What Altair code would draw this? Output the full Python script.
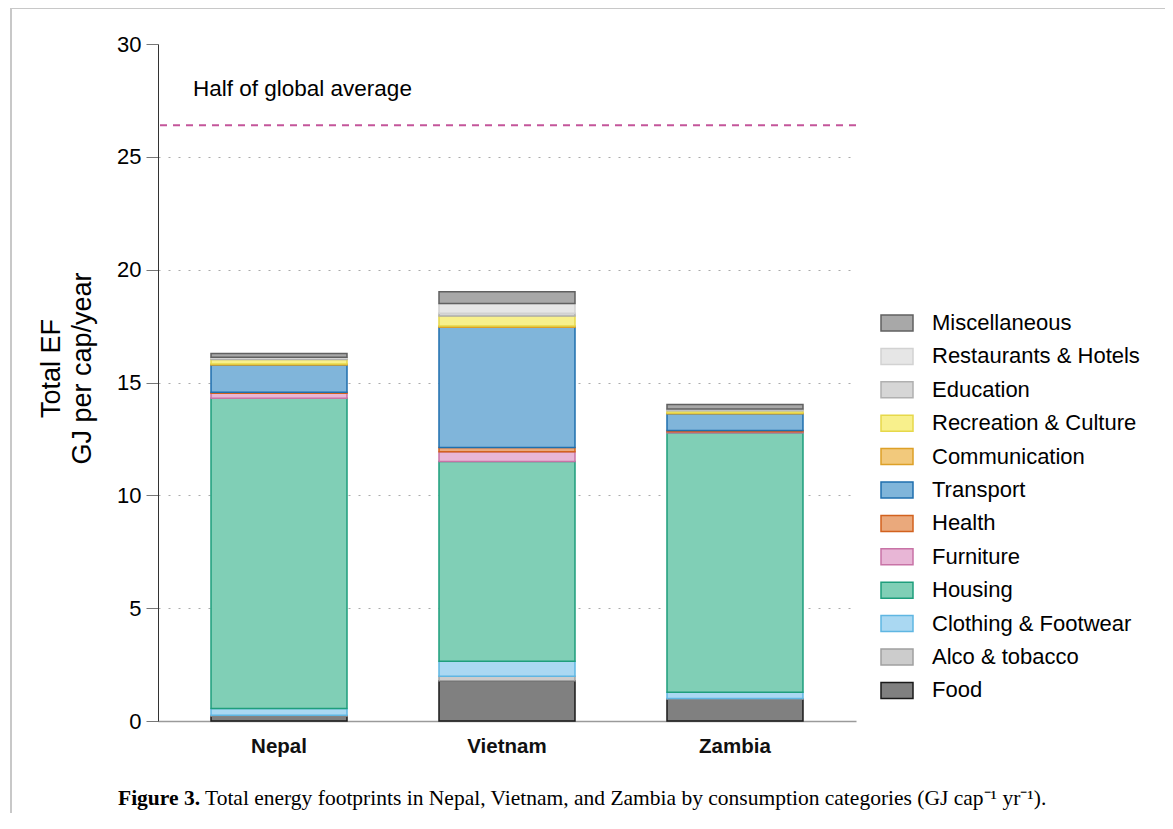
import altair as alt
import pandas as pd

countries = ["Nepal", "Vietnam", "Zambia"]
categories = ["Food", "Alco & tobacco", "Clothing & Footwear", "Housing", "Furniture",
              "Health", "Transport", "Communication", "Recreation & Culture",
              "Education", "Restaurants & Hotels", "Miscellaneous"]
nepal = [0.22, 0.03, 0.30, 13.75, 0.22, 0.05, 1.20, 0.05, 0.20, 0.05, 0.05, 0.17]
vietnam = [1.78, 0.20, 0.67, 8.85, 0.43, 0.19, 5.33, 0.05, 0.45, 0.12, 0.43, 0.52]
zambia = [0.97, 0.03, 0.27, 11.50, 0.05, 0.05, 0.75, 0.03, 0.10, 0.04, 0.04, 0.20]
fill_colors = ["#808080", "#cccccc", "#aad8f2", "#80cfb6", "#e8b6d6", "#eaa97c",
               "#80b5da", "#f2c97c", "#f8f08c", "#d6d6d6", "#e6e6e6", "#a8a8a8"]
stroke_colors = ["#1a1a1a", "#a0a0a0", "#5fb6e2", "#1e9e7c", "#c873a6", "#d2621e",
                 "#1f6fae", "#dda027", "#e6d84a", "#b0b0b0", "#d2d2d2", "#606060"]
half_global_average = 26.4
y_ticks = [0, 5, 10, 15, 20, 25, 30]

rows = []
for c, vals in zip(countries, [nepal, vietnam, zambia]):
    for i, (cat, v) in enumerate(zip(categories, vals)):
        rows.append({"country": c, "category": cat, "value": v, "order": i})
df = pd.DataFrame(rows)

legend_domain = categories[::-1]
legend_fill = fill_colors[::-1]
legend_stroke = stroke_colors[::-1]

bars = alt.Chart(df).mark_bar(strokeWidth=1.5).encode(
    x=alt.X("country:N", sort=countries,
            scale=alt.Scale(paddingInner=0.4035, paddingOuter=0.2325),
            axis=alt.Axis(title=None, ticks=False, labelAngle=0, labelFontSize=20.5,
                          labelFontWeight="bold", labelColor="#111", labelPadding=15,
                          domainColor="#9a9a9a", domainWidth=1.5)),
    y=alt.Y("value:Q", stack="zero",
            scale=alt.Scale(domain=[0, 30], nice=False),
            axis=alt.Axis(values=y_ticks, title=["Total EF", "GJ per cap/year"],
                          titleFontSize=27, titleFontWeight="normal", titleColor="#000",
                          titleLineHeight=31, titlePadding=20, titleY=324,
                          labelFontSize=22, labelColor="#000", labelPadding=5,
                          tickSize=12, tickColor="#777", domainColor="#333",
                          grid=True, gridDash=[2, 8], gridColor="#aaaaaa",
                          gridOpacity={"condition": {"test": "datum.value === 30", "value": 0}, "value": 1})),
    fill=alt.Fill("category:N", scale=alt.Scale(domain=legend_domain, range=legend_fill),
                  legend=alt.Legend(title=None)),
    stroke=alt.Stroke("category:N", scale=alt.Scale(domain=legend_domain, range=legend_stroke),
                      legend=alt.Legend(title=None)),
    order=alt.Order("order:Q", sort="ascending"),
)

ref_df = pd.DataFrame({"y": [half_global_average]})
refline = alt.Chart(ref_df).mark_rule(color="#c4559a", strokeDash=[7, 6], strokeWidth=2).encode(
    y="y:Q"
)
reftext = alt.Chart(ref_df).mark_text(align="left", baseline="middle", fontSize=22.5,
                                      color="#000", text="Half of global average").encode(
    x=alt.value(35), y=alt.datum(28.0)
)

cap_df = pd.DataFrame({"a": ["Figure 3."], "b": ["Total energy footprints in Nepal, Vietnam, and Zambia by consumption categories (GJ cap\u207b\u00b9 yr\u207b\u00b9)."]})
cap1 = alt.Chart(cap_df).mark_text(align="left", baseline="alphabetic", fontSize=21.5,
                                   font="Liberation Serif", fontWeight="bold", color="#000").encode(
    x=alt.value(-40), y=alt.value(761), text="a:N"
)
cap2 = alt.Chart(cap_df).mark_text(align="left", baseline="alphabetic", fontSize=21.5,
                                   font="Liberation Serif", color="#000").encode(
    x=alt.value(47), y=alt.value(761), text="b:N"
)
frame = alt.Chart(ref_df).mark_rect(filled=False, stroke="#c8c8c8", strokeWidth=2).encode(
    x=alt.value(-147), x2=alt.value(1008), y=alt.value(-36), y2=alt.value(800)
)

chart = alt.layer(frame, bars, refline, reftext, cap1, cap2).properties(
    width=698, height=677,
    padding={"left": 150, "top": 36, "right": 309, "bottom": 92},
    autosize=alt.AutoSizeParams(type="none"),
).configure(
    font="Liberation Sans"
).configure_view(stroke=None).configure_legend(
    orient="none", legendX=722, legendY=262,
    symbolType="M-1,-0.5H1V0.5H-1Z", symbolSize=1024, symbolStrokeWidth=1.5,
    labelFontSize=22, labelColor="#000", labelOffset=18, rowPadding=5.4,
    labelLimit=400,
)

chart.save("out.html", embed_options={"renderer": "svg", "actions": False})
